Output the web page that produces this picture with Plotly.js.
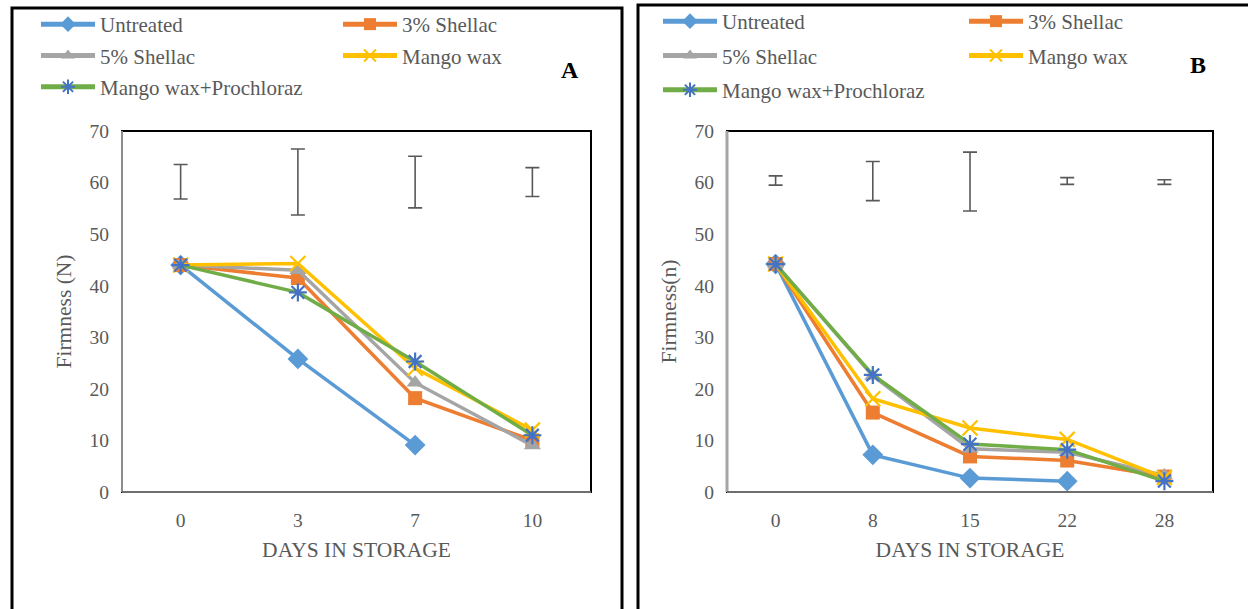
<!DOCTYPE html>
<html>
<head>
<meta charset="utf-8">
<script src="https://cdn.plot.ly/plotly-3.0.1.min.js"></script>
<style>html,body{margin:0;padding:0;background:#fff;}#chart{width:1248px;height:609px;}</style>
</head>
<body>
<div id="chart"></div>
<script>
// ---- Data ----
const seriesNames = ['Untreated', '3% Shellac', '5% Shellac', 'Mango wax', 'Mango wax+Prochloraz'];

// Panel A
const daysA = ['0', '3', '7', '10'];
const untreatedA = [44.0, 25.8, 9.1, null];
const shellac3A = [44.0, 41.5, 18.2, 10.0];
const shellac5A = [44.0, 43.0, 21.2, 9.0];
const mangoWaxA = [44.0, 44.3, 24.0, 12.0];
const prochlorazA = [44.0, 38.7, 25.3, 11.0];
const errCenterA = [60.15, 60.1, 60.1, 60.1];
const errSizeA = [3.35, 6.4, 5.0, 2.8];

// Panel B
const daysB = ['0', '8', '15', '22', '28'];
const untreatedB = [44.2, 7.2, 2.7, 2.1, null];
const shellac3B = [44.2, 15.4, 6.9, 6.1, 3.0];
const shellac5B = [44.2, 22.5, 8.4, 7.7, 3.2];
const mangoWaxB = [44.2, 18.1, 12.4, 10.2, 2.8];
const prochlorazB = [44.2, 22.7, 9.3, 8.2, 2.1];
const errCenterB = [60.4, 60.3, 60.2, 60.3, 60.1];
const errSizeB = [0.9, 3.8, 5.7, 0.65, 0.45];

// ---- Styles ----
const styles = [
  {line: '#5B9BD5', marker: {symbol: 'diamond', size: 16, color: '#5B9BD5'}},
  {line: '#ED7D31', marker: {symbol: 'square', size: 14, color: '#ED7D31'}},
  {line: '#A5A5A5', marker: {symbol: 'triangle-up', size: 15, color: '#A5A5A5'}},
  {line: '#FFC000', marker: {symbol: 'x-thin-open', size: 15, color: '#FFC000', line: {color: '#FFC000', width: 2.2}}},
  {line: '#70AD47', marker: {symbol: 'asterisk-open', size: 15, color: '#4472C4', line: {color: '#4472C4', width: 2.2}}}
];
const FONT = 'Liberation Serif';
const GREY = '#595959';

const dataA = [untreatedA, shellac3A, shellac5A, mangoWaxA, prochlorazA];
const dataB = [untreatedB, shellac3B, shellac5B, mangoWaxB, prochlorazB];
// legend columns: col1 = Untreated, 5% Shellac, Prochloraz ; col2 = 3% Shellac, Mango wax
const colA = ['legend', 'legend2', 'legend', 'legend2', 'legend'];
const colB = ['legend3', 'legend4', 'legend3', 'legend4', 'legend3'];

const traces = [];
function addPanel(days, data, xa, ya, cols, errC, errS) {
  traces.push({
    x: days, y: errC, xaxis: xa, yaxis: ya, type: 'scatter', mode: 'markers',
    marker: {size: 1, color: 'rgba(0,0,0,0)'}, showlegend: false, hoverinfo: 'skip',
    error_y: {type: 'data', array: errS, visible: true, color: GREY, thickness: 1.6, width: 7}
  });
  data.forEach((vals, i) => {
    traces.push({
      x: days, y: vals, name: seriesNames[i], xaxis: xa, yaxis: ya,
      type: 'scatter', mode: 'lines+markers', connectgaps: false,
      line: {color: styles[i].line, width: 3.5},
      marker: styles[i].marker,
      legend: cols[i], legendgroup: xa + i
    });
  });
}
addPanel(daysA, dataA, 'x', 'y', colA, errCenterA, errSizeA);
addPanel(daysB, dataB, 'x2', 'y2', colB, errCenterB, errSizeB);

const W = 1248, H = 609;
const px = v => v / W, py = v => 1 - v / H;

const yDom = [py(492), py(131)];
function xAxis(domain, n, anchor) {
  return {
    domain: domain, anchor: anchor, type: 'category', range: [-0.5, n - 0.5],
    showgrid: false, zeroline: false, showline: false, ticks: '',
    ticklabelstandoff: 14,
    tickfont: {family: FONT, size: 19.5, color: GREY},
    title: {text: 'DAYS IN STORAGE', font: {family: FONT, size: 21.5, color: GREY}, standoff: 12},
    fixedrange: true
  };
}
function yAxis(anchor, title) {
  return {
    domain: yDom, anchor: anchor, range: [0, 70], dtick: 10, tick0: 0,
    showgrid: false, zeroline: false, showline: false, ticks: '',
    ticklabelstandoff: 12,
    tickfont: {family: FONT, size: 19.5, color: GREY},
    title: {text: title, font: {family: FONT, size: 21.5, color: GREY}, standoff: 11},
    fixedrange: true
  };
}

function legendAt(x, y, gap) {
  return {
    x: x, y: y, xanchor: 'left', yanchor: 'top', orientation: 'v',
    bgcolor: 'rgba(0,0,0,0)', borderwidth: 0, itemwidth: 54, itemsizing: 'constant',
    tracegroupgap: gap, font: {family: FONT, size: 21, color: GREY},
    itemclick: false, itemdoubleclick: false
  };
}

const shapes = [
  // panel outer frames
  {type: 'rect', xref: 'paper', yref: 'paper', x0: px(12), x1: px(622), y0: -0.05, y1: py(8), line: {color: '#000', width: 3}},
  {type: 'rect', xref: 'paper', yref: 'paper', x0: px(638), x1: px(1252), y0: -0.05, y1: py(5), line: {color: '#000', width: 3}},
  // plot area frames
  {type: 'rect', xref: 'x domain', yref: 'y domain', x0: 0, x1: 1, y0: 0, y1: 1, line: {color: '#000', width: 2}},
  {type: 'line', xref: 'x domain', yref: 'y domain', x0: 0, x1: 0, y0: 0, y1: 1, line: {color: '#8c8c8c', width: 2}},
  {type: 'line', xref: 'x domain', yref: 'y domain', x0: 0, x1: 1, y0: 0, y1: 0, line: {color: '#6e6e6e', width: 2}},
  {type: 'rect', xref: 'x2 domain', yref: 'y2 domain', x0: 0, x1: 1, y0: 0, y1: 1, line: {color: '#000', width: 2}},
  {type: 'line', xref: 'x2 domain', yref: 'y2 domain', x0: 0, x1: 0, y0: 0, y1: 1, line: {color: '#a6a6a6', width: 3}},
  {type: 'line', xref: 'x2 domain', yref: 'y2 domain', x0: 0, x1: 1, y0: 0, y1: 0, line: {color: '#6e6e6e', width: 2}}
];

const layout = {
  width: W, height: H,
  margin: {l: 0, r: 0, t: 0, b: 0},
  paper_bgcolor: '#fff', plot_bgcolor: '#fff',
  font: {family: FONT, size: 19, color: GREY},
  showlegend: true,
  xaxis: xAxis([px(122), px(591)], daysA.length, 'y'),
  yaxis: yAxis('x', 'Firmness (N)'),
  xaxis2: xAxis([px(727), px(1213)], daysB.length, 'y2'),
  yaxis2: yAxis('x2', 'Firmness(n)'),
  legend: legendAt(px(36), py(4), 1),
  legend2: legendAt(px(338), py(4), 1),
  legend3: legendAt(px(658), py(1), 4),
  legend4: legendAt(px(964), py(1), 4),
  shapes: shapes,
  annotations: [
    {text: '<b>A</b>', xref: 'paper', yref: 'paper', x: px(570), y: py(70), xanchor: 'center', yanchor: 'middle', showarrow: false, font: {family: FONT, size: 24, color: '#000'}},
    {text: '<b>B</b>', xref: 'paper', yref: 'paper', x: px(1198), y: py(65), xanchor: 'center', yanchor: 'middle', showarrow: false, font: {family: FONT, size: 24, color: '#000'}}
  ]
};

Plotly.newPlot('chart', traces, layout, {staticPlot: true, displayModeBar: false});
</script>
</body>
</html>
